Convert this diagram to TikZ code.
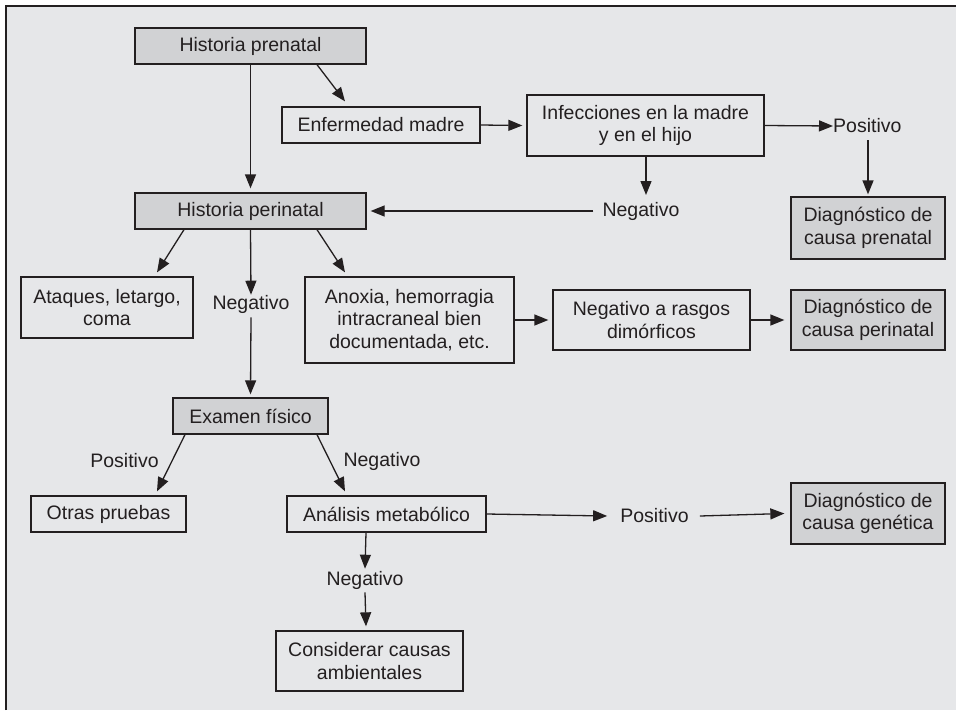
\documentclass[tikz,border=0pt]{standalone}
\usepackage{fontspec}
\setmainfont{Liberation Sans}
\usetikzlibrary{arrows.meta}
\definecolor{panel}{HTML}{E6E7E9}
\definecolor{shade}{HTML}{D1D2D4}
\definecolor{ink}{HTML}{231F20}
\begin{document}
\begin{tikzpicture}[x=1pt,y=-1pt,
  every node/.style={font=\fontsize{19.5}{22.5}\selectfont, text=ink},
  box/.style={draw=ink, line width=1.3pt, fill=panel, align=center, inner sep=0pt},
  darkbox/.style={box, fill=shade},
  lbl/.style={inner sep=0pt},
  conn/.style={draw=ink, line width=1.3pt, -{Triangle[length=14pt,width=11pt]}}]
  \useasboundingbox (0,0) rectangle (956,710);
  % panel with rule on top and left
  \fill[panel] (6,6) rectangle (956,710);
  \draw[ink, line width=1.6pt] (6,710) -- (6,6) -- (956,6);

  % boxes
  \node[darkbox, minimum width=231pt, minimum height=36pt] (hpre) at (250.5,46) {Historia prenatal};
  \node[box, minimum width=198pt, minimum height=36pt] (enf) at (381,125) {Enfermedad madre};
  \node[box, minimum width=237pt, minimum height=61pt] (inf) at (645.5,125.5) {Infecciones en la madre\\y en el hijo};
  \node[lbl, anchor=west] (pos1) at (833,126) {Positivo};
  \node[darkbox, minimum width=154pt, minimum height=62pt] (dpre) at (868,228) {Diagnóstico de\\causa prenatal};
  \node[lbl] (neg1) at (641,211) {Negativo};
  \node[darkbox, minimum width=231pt, minimum height=36pt] (hper) at (250.5,211) {Historia perinatal};
  \node[box, minimum width=172pt, minimum height=61pt] (ata) at (107,307.5) {Ataques, letargo,\\coma};
  \node[lbl] (neg2) at (251,304) {Negativo};
  \node[box, minimum width=209pt, minimum height=86pt] (anox) at (409.5,320) {Anoxia, hemorragia\\intracraneal bien\\documentada, etc.};
  \node[box, minimum width=197pt, minimum height=60pt] (ras) at (651.5,320) {Negativo a rasgos\\dimórficos};
  \node[darkbox, minimum width=154pt, minimum height=60pt] (dper) at (868,320) {Diagnóstico de\\causa perinatal};
  \node[darkbox, minimum width=155pt, minimum height=36pt] (exam) at (250.5,416) {Examen físico};
  \node[lbl] (posE) at (124.5,461) {Positivo};
  \node[lbl] (negE) at (382,461) {Negativo};
  \node[box, minimum width=155pt, minimum height=36pt] (otr) at (108.5,514) {Otras pruebas};
  \node[box, minimum width=199pt, minimum height=36pt] (ana) at (386.5,514) {Análisis metabólico};
  \node[lbl] (neg3) at (365,580) {Negativo};
  \node[lbl] (pos3) at (654.5,516) {Positivo};
  \node[darkbox, minimum width=154pt, minimum height=61pt] (dgen) at (868,513.5) {Diagnóstico de\\causa genética};
  \node[box, minimum width=187pt, minimum height=60pt] (cons) at (369.5,661) {Considerar causas\\ambientales};

  % connectors (yshift is on the page: positive is upward)
  \draw[conn] (hpre.south) -- ([yshift=4pt]hper.north);
  \draw[conn] ([xshift=66.5pt]hpre.south) -- ([xshift=-36pt,yshift=5pt]enf.north);
  \draw[conn] (enf.east) -- ([xshift=-4pt]inf.west);
  \draw[conn] (inf.east) -- (pos1.west);
  \coordinate (pos1b) at (868,140);
  \draw[conn] (pos1b) -- ([yshift=2pt]dpre.north);
  \coordinate (neg1t) at (646,195);
  \draw[conn] (inf.south -| neg1t) -- (neg1t);
  \draw[conn] ([xshift=-9pt]neg1.west) -- ([xshift=4pt]hper.east);
  \draw[conn] ([xshift=-66.5pt]hper.south) -- ([xshift=50pt,yshift=4pt]ata.north);
  \draw[conn] (hper.south) -- (neg2.north);
  \draw[conn] ([yshift=-4pt]neg2.south) -- ([yshift=3pt]exam.north);
  \draw[conn] ([xshift=66.5pt]hper.south) -- ([xshift=-64.5pt,yshift=4pt]anox.north);
  \draw[conn] (anox.east) -- ([xshift=-4pt]ras.west);
  \draw[conn] (ras.east) -- ([xshift=-6pt]dper.west);
  \draw[conn] ([xshift=-65.5pt]exam.south) -- ([xshift=48.5pt,yshift=4pt]otr.north);
  \draw[conn] ([xshift=66.5pt]exam.south) -- ([xshift=-41.5pt,yshift=4pt]ana.north);
  \draw[conn] ([xshift=-20.5pt]ana.south) -- ([yshift=2pt]neg3.north);
  \draw[conn] ([yshift=-3pt]neg3.south) -- ([xshift=-3.5pt,yshift=4pt]cons.north);
  \draw[conn] (ana.east) -- ([xshift=-13pt]pos3.west);
  \draw[conn] ([xshift=11pt]pos3.east) -- ([xshift=-6pt]dgen.west);
\end{tikzpicture}
\end{document}
